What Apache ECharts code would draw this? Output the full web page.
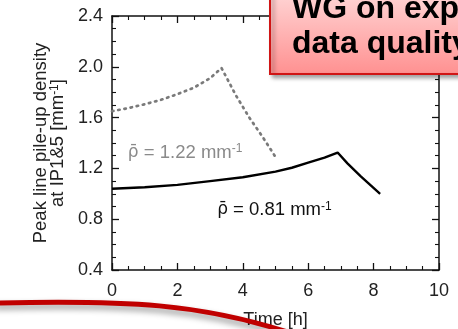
<!DOCTYPE html>
<html>
<head>
<meta charset="utf-8">
<script src="https://cdn.jsdelivr.net/npm/echarts@6/dist/echarts.min.js"></script>
<style>
html,body{margin:0;padding:0;background:#fff;}
#main{width:458px;height:329px;}
</style>
</head>
<body>
<div id="main"></div>
<script>
// values
var xTicks = [0, 2, 4, 6, 8, 10];
var yTicks = [0.4, 0.8, 1.2, 1.6, 2.0, 2.4];

var highTime = [0, 0.5, 1, 1.5, 2, 2.5, 3, 3.35, 3.8, 4.2, 4.6, 5.05];
var highDens = [1.65, 1.675, 1.705, 1.74, 1.785, 1.835, 1.91, 1.99, 1.77, 1.60, 1.45, 1.27];

var lowTime = [0, 1, 2, 3, 4, 5, 5.5, 6, 6.5, 6.9, 7.2, 7.6, 8.2];
var lowDens = [1.04, 1.052, 1.07, 1.10, 1.13, 1.175, 1.205, 1.245, 1.285, 1.325, 1.24, 1.14, 1.0];

var highLabel = ' = 1.22 mm';
var lowLabel = ' = 0.81 mm';

var font = 'Liberation Sans, Arial, sans-serif';

function pairs(xs, ys){
  var out = [];
  for (var i = 0; i < xs.length; i++) {
    out.push([xs[i], ys[i]]);
  }
  return out;
}

function axisX(pos, showLabel){
  return {
    type:'value', position:pos, min:xTicks[0], max:xTicks[xTicks.length-1],
    interval:xTicks[1]-xTicks[0],
    axisLine:{show:true, onZero:false, lineStyle:{color:'#111', width:1.5}},
    axisTick:{show:true, inside:true, length:7, lineStyle:{color:'#111', width:1.3}},
    minorTick:{show:true, splitNumber:4, length:4, lineStyle:{color:'#111', width:1.1}},
    splitLine:{show:false},
    axisLabel:{show:showLabel, fontFamily:font, fontSize:18, color:'#222', margin:12},
    name: showLabel ? 'Time [h]' : '',
    nameLocation:'middle', nameGap:41,
    nameTextStyle:{fontFamily:font, fontSize:18, color:'#222'}
  };
}

function axisY(pos, showLabel){
  return {
    type:'value', position:pos, min:yTicks[0], max:yTicks[yTicks.length-1],
    interval:0.4,
    axisLine:{show:true, onZero:false, lineStyle:{color:'#111', width:1.5}},
    axisTick:{show:true, inside:true, length:7, lineStyle:{color:'#111', width:1.3}},
    minorTick:{show:true, splitNumber:4, length:4, lineStyle:{color:'#111', width:1.1}},
    splitLine:{show:false},
    axisLabel:{show:showLabel, fontFamily:font, fontSize:18, color:'#222', margin:9,
      formatter:function(v){ return v.toFixed(1); }},
    name: showLabel ? 'Peak line pile-up density\nat IP1&5 [mm{s|-1}]' : '',
    nameLocation:'middle', nameGap:46,
    nameTextStyle:{fontFamily:font, fontSize:18.5, color:'#222', lineHeight:17,
      rich:{s:{fontFamily:font, fontSize:12, color:'#222', verticalAlign:'top'}}}
  };
}

function rhoLabel(text, color){
  return {
    show:true, position:'right', distance:0,
    formatter:'{r|ρ\u0304}{a|' + text + '}{s|-1}',
    rich:{
      r:{fontFamily:'DejaVu Sans', fontSize:17, color:color},
      a:{fontFamily:font, fontSize:18.5, color:color},
      s:{fontFamily:font, fontSize:12, color:color, verticalAlign:'top'}
    }
  };
}

var chart = echarts.init(document.getElementById('main'));
var option = {
  animation:false,
  backgroundColor:'#fff',
  grid:{left:112, right:19, top:16, bottom:59, outerBoundsMode:'none', containLabel:false},
  xAxis:[axisX('bottom', true), axisX('top', false)],
  yAxis:[axisY('left', true), axisY('right', false)],
  series:[
    {
      type:'line', data:pairs(highTime, highDens), symbol:'none',
      lineStyle:{color:'#7a7a7a', width:2.7, type:[1.5, 4.8], cap:'round'},
      markPoint:{
        symbol:'circle', symbolSize:1, itemStyle:{color:'rgba(0,0,0,0)'},
        label:rhoLabel(highLabel, '#8a8a8a'),
        data:[{coord:[0.47, 1.325]}]
      }
    },
    {
      type:'line', data:pairs(lowTime, lowDens), symbol:'none',
      lineStyle:{color:'#000', width:2.4},
      markPoint:{
        symbol:'circle', symbolSize:1, itemStyle:{color:'rgba(0,0,0,0)'},
        label:rhoLabel(lowLabel, '#111'),
        data:[{coord:[3.2, 0.872]}]
      }
    }
  ],
  graphic:[
    {
      type:'bezierCurve', z:100,
      shape:{x1:-5, y1:303, cpx1:120, cpy1:300, cpx2:205, cpy2:302, x2:305, y2:338},
      style:{stroke:'#c00000', lineWidth:5, fill:null,
        shadowBlur:6, shadowOffsetX:0, shadowOffsetY:4, shadowColor:'rgba(0,0,0,0.4)'}
    },
    {
      type:'rect', z:100,
      shape:{x:270, y:-10, width:200, height:84},
      style:{
        fill:new echarts.graphic.LinearGradient(0, 0, 0, 1, [
          {offset:0, color:'#ffd8d8'}, {offset:1, color:'#ff9090'}]),
        stroke:'#d01515', lineWidth:2,
        shadowBlur:4, shadowOffsetX:3, shadowOffsetY:3, shadowColor:'rgba(0,0,0,0.35)'
      }
    },
    {
      type:'text', z:101,
      style:{text:'WG on exp', x:292, y:9, font:'bold 32px ' + font, fill:'#000',
        textVerticalAlign:'middle'}
    },
    {
      type:'text', z:101,
      style:{text:'data quality', x:292, y:44, font:'bold 32px ' + font, fill:'#000',
        textVerticalAlign:'middle'}
    }
  ]
};
chart.setOption(option);
</script>
</body>
</html>
